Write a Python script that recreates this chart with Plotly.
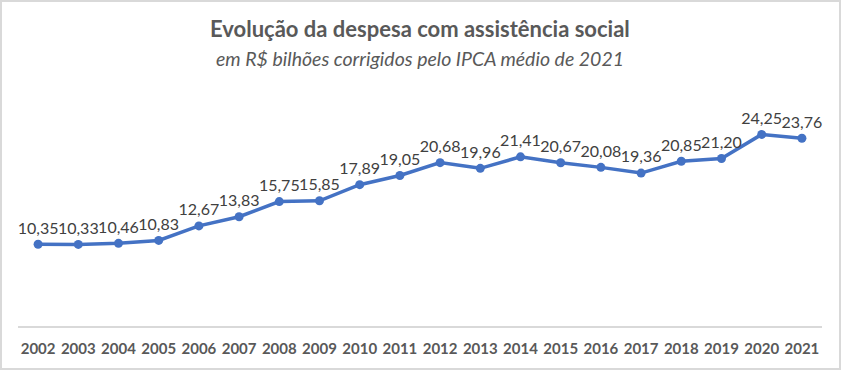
import plotly.graph_objects as go

years = [str(y) for y in range(2002, 2022)]
values = [10.35, 10.33, 10.46, 10.83, 12.67, 13.83, 15.75, 15.85, 17.89, 19.05,
          20.68, 19.96, 21.41, 20.67, 20.08, 19.36, 20.85, 21.20, 24.25, 23.76]

title_text = "Evolução da despesa com assistência social"
subtitle_text = "em R$ bilhões corrigidos pelo IPCA médio de 2021"

W, H = 841, 370
ml, mr, mt, mb = 18, 19, 89, 44
pw, ph = W - ml - mr, H - mt - mb

fig = go.Figure()
fig.add_trace(go.Scatter(
    x=years, y=values, mode="lines+markers+text",
    line=dict(color="#4472C4", width=3.5),
    marker=dict(color="#4472C4", size=9),
    text=values, texttemplate="%{y:.2f}", textposition="top center",
    textfont=dict(family="Lato", size=16, color="#404040"),
    cliponaxis=False, hoverinfo="skip",
))

fig.update_layout(
    width=W, height=H, separators=",.",
    margin=dict(l=ml, r=mr, t=mt, b=mb, autoexpand=False),
    paper_bgcolor="white", plot_bgcolor="white",
    showlegend=False,
    xaxis=dict(type="category", range=[-0.5, 19.5], autorange=False, automargin=False,
               showgrid=False, showline=True, linecolor="#d9d9d9",
               linewidth=1.5, ticks="", zeroline=False, ticklabelstandoff=8,
               tickfont=dict(family="Lato", size=15, color="#595959", weight="bold")),
    yaxis=dict(range=[0, 30], autorange=False, visible=False, showgrid=False,
               zeroline=False, automargin=False),
    annotations=[
        dict(text="<b>" + title_text + "</b>", xref="paper", yref="paper",
             x=(420 - ml) / pw, y=(mt + ph - 29) / ph, xanchor="center", yanchor="middle",
             showarrow=False, font=dict(family="Lato", size=22, color="#595959")),
        dict(text="<i>" + subtitle_text + "</i>", xref="paper", yref="paper",
             x=(420 - ml) / pw, y=(mt + ph - 58) / ph, xanchor="center", yanchor="middle",
             showarrow=False, font=dict(family="Lato", size=19.5, color="#595959")),
    ],
    shapes=[dict(type="rect", xref="paper", yref="paper",
                 x0=(1 - ml) / pw, x1=(W - 1 - ml) / pw,
                 y0=(mt + ph - (H - 1)) / ph, y1=(mt + ph - 1) / ph,
                 line=dict(color="#d9d9d9", width=2))],
)

fig.write_html("out.html", config={"displayModeBar": False},
               post_script="document.body.style.margin='0';document.body.style.overflow='hidden';")
